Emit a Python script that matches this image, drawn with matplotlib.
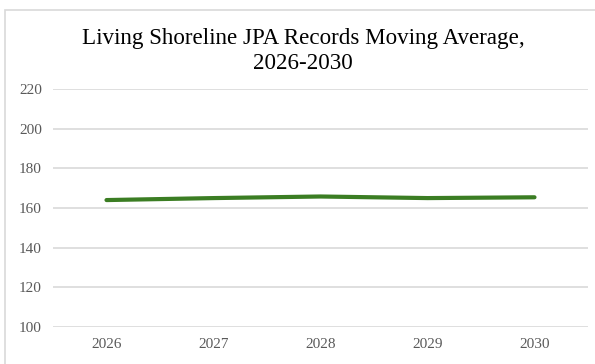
import matplotlib.pyplot as plt
from matplotlib.patches import Rectangle

years = ['2026', '2027', '2028', '2029', '2030']
moving_avg = [164.0, 165.0, 165.8, 165.0, 165.4]
y_ticks = [100, 120, 140, 160, 180, 200, 220]

plt.rcParams['font.family'] = ['Liberation Serif', 'DejaVu Serif']

W, H = 595, 364
fig = plt.figure(figsize=(W / 100, H / 100), dpi=100)

# outer chart frame (only top/left visible in the crop)
fig.patches.append(Rectangle((5 / W, -0.1), 1.2, (H - 10) / H + 0.1,
                             transform=fig.transFigure, fill=False,
                             edgecolor='#d9d9d9', linewidth=1.2))

ax = fig.add_axes([53 / W, 1 - 327 / H, (588 - 53) / W, (327 - 89) / H])
x = range(len(years))
ax.plot(x, moving_avg, color='#3b7d23', linewidth=3, solid_capstyle='round')

ax.set_xlim(-0.5, len(years) - 0.5)
ax.set_ylim(100, 220)
ax.set_yticks(y_ticks)
ax.set_xticks(list(x))
ax.set_xticklabels(years)
ax.grid(axis='y', color='#d9d9d9', linewidth=1.2)
ax.set_axisbelow(True)
for s in ax.spines.values():
    s.set_visible(False)
ax.tick_params(length=0, labelsize=11, colors='#595959')
ax.tick_params(axis='y', pad=8)
ax.tick_params(axis='x', pad=8)

fig.text(303 / W, 1 - 51 / H, 'Living Shoreline JPA Records Moving Average,\n2026-2030',
         ha='center', va='center', fontsize=16.6, linespacing=1.25)

fig.savefig('out.png', dpi=100)
